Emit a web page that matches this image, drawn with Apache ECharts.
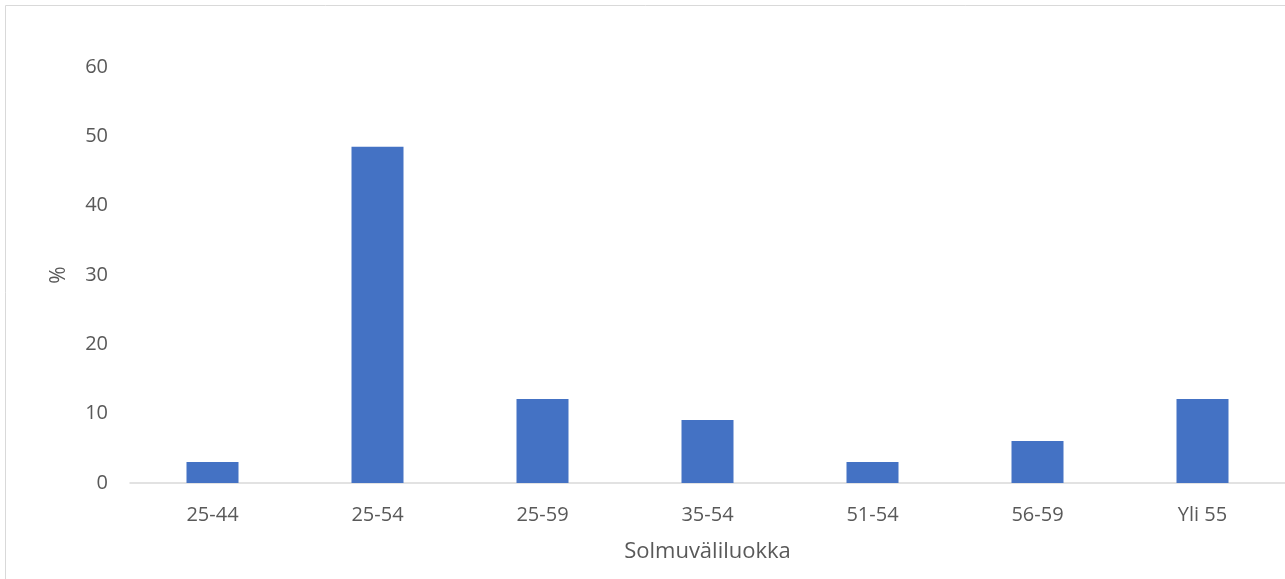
<!DOCTYPE html>
<html>
<head>
<meta charset="utf-8">
<script src="https://cdn.jsdelivr.net/npm/echarts@6/dist/echarts.min.js"></script>
<style>
  html, body { margin: 0; padding: 0; background: #fff; }
  #chart { width: 1285px; height: 579px; }
</style>
</head>
<body>
<div id="chart"></div>
<script>
// solmuväliluokat ja osuudet (%)
var categories = ["25-44", "25-54", "25-59", "35-54", "51-54", "56-59", "Yli 55"];
var values = [3.03, 48.48, 12.12, 9.09, 3.03, 6.06, 12.12];
var yTicks = [0, 10, 20, 30, 40, 50, 60];

var labelColor = "#595959";
var font = "'Open Sans', sans-serif";

var chart = echarts.init(document.getElementById("chart"));
chart.setOption({
  animation: false,
  graphic: [
    {
      type: "rect",
      shape: { x: 5.5, y: 5.5, width: 1300, height: 600 },
      style: { fill: "none", stroke: "#d9d9d9", lineWidth: 1 }
    }
  ],
  grid: {
    left: 130,
    top: 67,
    width: 1156,
    height: 416
  },
  xAxis: {
    type: "category",
    data: categories,
    name: "Solmuväliluokka",
    nameLocation: "middle",
    nameGap: 58,
    nameTextStyle: { color: labelColor, fontSize: 22, fontFamily: font },
    axisLine: { lineStyle: { color: "#d9d9d9", width: 1.5 } },
    axisTick: { show: false },
    axisLabel: { color: labelColor, fontSize: 20, fontFamily: font, margin: 22 }
  },
  yAxis: {
    type: "value",
    min: yTicks[0],
    max: yTicks[yTicks.length - 1],
    interval: 10,
    name: "%",
    nameLocation: "middle",
    nameRotate: 90,
    nameGap: 60,
    nameTextStyle: { color: labelColor, fontSize: 21, fontFamily: font },
    axisLine: { show: false },
    axisTick: { show: false },
    splitLine: { show: false },
    axisLabel: { color: labelColor, fontSize: 20, fontFamily: font, margin: 22 }
  },
  series: [
    {
      type: "bar",
      data: values,
      barWidth: 52,
      itemStyle: { color: "#4472C4" }
    }
  ]
});
</script>
</body>
</html>
